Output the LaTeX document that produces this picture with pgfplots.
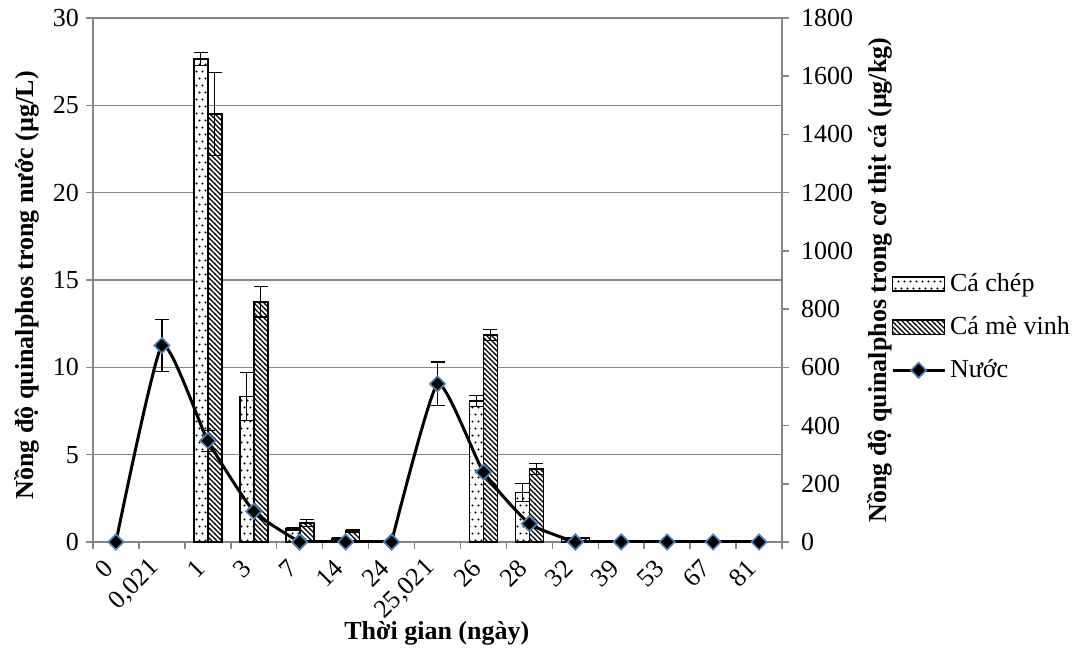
\documentclass[border=0pt]{standalone}
\usepackage{fontspec}
\setmainfont{Liberation Serif}
\usepackage{pgfplots}
\pgfplotsset{compat=1.18}
\usetikzlibrary{patterns}

\definecolor{axgray}{HTML}{868686}
\definecolor{mkblue}{HTML}{4F81BD}

% sparse staggered dots (Ca chep)
\pgfdeclarepatternformonly{sparsedots}{\pgfqpoint{-1pt}{-1pt}}{\pgfqpoint{4pt}{8pt}}{\pgfqpoint{3pt}{7pt}}{
  \pgfpathcircle{\pgfqpoint{0.75pt}{0.75pt}}{0.6pt}
  \pgfpathcircle{\pgfqpoint{2.25pt}{4.25pt}}{0.6pt}
  \pgfusepath{fill}}
% dense diagonal hatch (Ca me vinh)
\pgfdeclarepatternformonly{nwhatch}{\pgfqpoint{-1pt}{-1pt}}{\pgfqpoint{3.5pt}{3.5pt}}{\pgfqpoint{2.5pt}{2.5pt}}{
  \pgfsetlinewidth{0.65pt}
  \pgfpathmoveto{\pgfqpoint{-0.1pt}{2.6pt}}
  \pgfpathlineto{\pgfqpoint{2.6pt}{-0.1pt}}
  \pgfusepath{stroke}}

\pgfplotsset{
  common/.style={
    scale only axis, width=344.5pt, height=262pt,
    xmin=-0.5, xmax=14.5, clip=false,
    /pgf/number format/assume math mode=true,
    /pgf/number format/1000 sep={},
    tick align=outside, major tick length=3.5pt, minor tick length=3.5pt,
  },
  barlegend/.style={legend image code/.code={\draw[##1] (0pt,-3.6pt) rectangle (26pt,3.6pt);}},
  linelegend/.style={legend image code/.code={\draw[mark repeat=2,mark phase=2,##1] plot coordinates {(0pt,0pt) (13pt,0pt) (26pt,0pt)};}},
  waterline/.style={black, line width=1.5pt,
    mark=square*, mark size=2.7pt,
    mark options={rotate=45, fill=black, draw=mkblue, line width=0.8pt}},
  errs/.style={error bars/.cd, y dir=both, y explicit,
    error bar style={black, line width=0.6pt},
    error mark options={rotate=90, mark size=3.5pt, black, line width=0.6pt}},
}

\begin{document}
\begin{tikzpicture}[font=\fontsize{13}{15.6}\selectfont]
% axis A: left scale, grid, x ticks
\begin{axis}[common, name=A,
    ymin=0, ymax=30, ytick={0,5,...,30},
    axis y line*=left, axis x line*=bottom,
    axis line style={draw=axgray, line width=0.75pt},
    ymajorgrids, grid style={draw=axgray, line width=0.75pt},
    ytick style={draw=axgray, line width=0.75pt},
    xtick={0,...,14},
    xticklabels={0,{0,021},1,3,7,14,24,{25,021},26,28,32,39,53,67,81},
    major x tick style={draw=none},
    minor xtick={-0.5,0.5,...,14.5},
    minor x tick style={draw=axgray, line width=0.75pt},
    xticklabel style={xshift=-1pt, yshift=-5pt, rotate=45, anchor=east},
  ]
  \node[rotate=90, font=\fontsize{13}{15.6}\selectfont\bfseries] at (rel axis cs:-0.0958,0.49) {Nồng độ quinalphos trong nước (µg/L)};
  \node[font=\fontsize{13}{15.6}\selectfont\bfseries] at (rel axis cs:0.499,-0.1737) {Thời gian (ngày)};
\end{axis}
% axis B: fish bars, right scale
\begin{axis}[common,
    ymin=0, ymax=1800, ytick={0,200,...,1800},
    axis y line*=right, axis x line=none,
    axis line style={draw=axgray, line width=0.75pt},
    ytick style={draw=axgray, line width=0.75pt},
    yticklabel style={xshift=2.5pt},
    ybar=0pt, bar width=7pt,
  ]
  \addplot[fill=white, draw=black, line width=0.8pt, postaction={pattern=sparsedots}, errs]
    coordinates {
      (2,1660) +- (0,22)
      (3,500) +- (0,83)
      (4,45) +- (0,6)
      (5,12) +- (0,3)
      (8,484) +- (0,18)
      (9,170) +- (0,32)
      (10,12) +- (0,3)
    };
  \addplot[fill=white, draw=black, line width=0.8pt, postaction={pattern=nwhatch}, errs]
    coordinates {
      (2,1470) +- (0,143)
      (3,825) +- (0,52)
      (4,66) +- (0,12)
      (5,38) +- (0,5)
      (8,711) +- (0,20)
      (9,251) +- (0,19)
      (10,13) +- (0,2)
    };
  \node[rotate=90, font=\fontsize{13}{15.6}\selectfont\bfseries] at (rel axis cs:1.142,0.5) {Nồng độ quinalphos trong cơ thịt cá (µg/kg)};
\end{axis}
% axis C: water line, left scale
\begin{axis}[common, hide axis, ymin=0, ymax=30,
    legend style={draw=none, fill=none, at={(1.149,0.41)}, anchor=west,
      row sep=7pt, font=\fontsize{13}{15.6}\selectfont, nodes={inner xsep=0.5pt},
      /tikz/every odd column/.append style={column sep=1.5pt}},
    legend cell align=left,
  ]
  \addlegendimage{barlegend, fill=white, draw=black, line width=0.8pt, postaction={pattern=sparsedots}}
  \addlegendentry{Cá chép}
  \addlegendimage{barlegend, fill=white, draw=black, line width=0.8pt, postaction={pattern=nwhatch}}
  \addlegendentry{Cá mè vinh}
  \addplot[waterline, smooth, tension=0.3, linelegend, errs]
    coordinates {
      (0,0) +- (0,0)
      (1,11.25) +- (0,1.5)
      (2,5.8) +- (0,0.6)
      (3,1.75) +- (0,0)
      (4,0) +- (0,0)
    };
  \addlegendentry{Nước}
  \addplot[forget plot, waterline, smooth, tension=0.3, errs]
    coordinates {
      (6,0) +- (0,0)
      (7,9.05) +- (0,1.25)
      (8,4.0) +- (0,0)
      (9,1.05) +- (0,0)
      (10,0) +- (0,0)
    };
  \addplot[forget plot, waterline] coordinates {(4,0) (5,0) (6,0)};
  \addplot[forget plot, waterline] coordinates {(10,0) (11,0) (12,0) (13,0) (14,0)};
\end{axis}
\pgfresetboundingbox
\path[use as bounding box] ([shift={(-46.5pt,-56pt)}]A.south west) rectangle ([shift={(149.5pt,9pt)}]A.north east);
\end{tikzpicture}
\end{document}
